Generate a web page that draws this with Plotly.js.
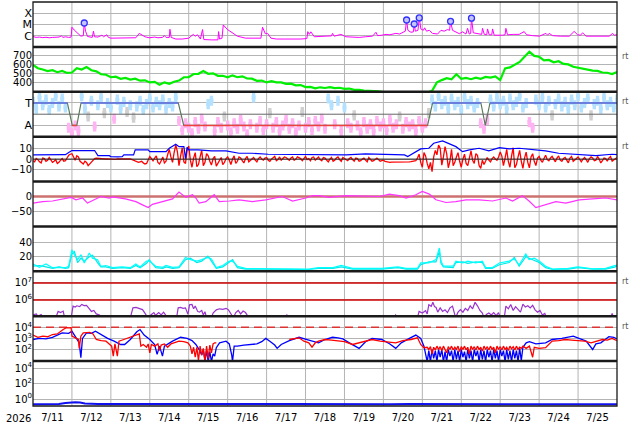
<!DOCTYPE html>
<html><head><meta charset="utf-8">
<script src="https://cdn.plot.ly/plotly-3.0.1.min.js"></script>
<style>
html,body{margin:0;padding:0;background:#fff;}
#chart{width:634px;height:424px;}
</style></head><body><div id="chart"></div>
<script>
// ---------- time base ----------
const T0 = Date.UTC(2026, 6, 11);
const X_RANGE = ['2026-07-11 00:00', '2026-07-26 00:00'];
const RANGE_HOURS = [0, 360];
const DAY_LINES = [24,48,72,96,120,144,168,192,216,240,264,288,312,336];

// ---------- panel 1: X-ray flux [hour, W/m2] ----------
const xray = [[0,8.3e-7],[2,7e-7],[4,7.5e-7],[6,6.7e-7],[8,7.2e-7],[10,6.5e-7],[12,7e-7],[14,6.8e-7],[16,7.5e-7],[17.5,9.5e-7],[18.5,7e-7],[20,8e-7],[22,7e-7],[23.5,7.5e-7],[24,5.6e-6],[25.4,3.2e-6],[27.4,1.6e-6],[29.5,9e-7],[31,1e-6],[31.6,1.35e-5],[32.4,2.5e-6],[33.6,8.5e-7],[36.5,7e-7],[37.3,2.5e-6],[37.9,8e-7],[40,7.5e-7],[42.5,1.1e-6],[43.5,8e-7],[45.5,1.2e-6],[46.5,7e-7],[48,6e-7],[52,6e-7],[56,5.8e-7],[60,6.2e-7],[63.4,6.5e-7],[65.5,1.6e-6],[67.5,1.1e-6],[69,8e-7],[71.6,6.5e-7],[75,7.5e-7],[77,6.5e-7],[79.8,7e-7],[81,1e-6],[82,7e-7],[84,7e-7],[84.4,3.7e-6],[85.2,7e-7],[88,5e-7],[92,5e-7],[96,6e-7],[98.8,1.3e-6],[100,9e-7],[101.4,1.2e-6],[103.2,5e-7],[104.5,3.5e-6],[105.3,4.5e-7],[110,4.2e-7],[114,4.2e-7],[114.4,2.3e-6],[115,5e-7],[116.5,6e-7],[117.3,9e-6],[119.9,3.5e-6],[123,1.6e-6],[126,9e-7],[131,6e-7],[136,5.8e-7],[140.5,6e-7],[141.5,5.6e-6],[143.2,1.5e-6],[144.6,1.6e-6],[146.7,6e-7],[150,5e-7],[155,4.8e-7],[160,4.8e-7],[165,5e-7],[168.8,5.5e-7],[169.4,2.3e-6],[170.3,1.3e-6],[171.3,2.2e-6],[173.4,8e-7],[176.4,9e-7],[180,9e-7],[184,9.5e-7],[184.6,1.6e-6],[185.7,9e-7],[189.8,1.3e-6],[192.9,8e-7],[197,7.5e-7],[201.1,7e-7],[205,8e-7],[209.3,9e-7],[211.4,2e-6],[212.4,1e-6],[215,1.1e-6],[217.6,1.3e-6],[220,1.2e-6],[223.7,1.6e-6],[226,1.4e-6],[227.8,2e-6],[229.5,2.5e-6],[230.3,2.5e-5],[231.1,3e-6],[233,2e-6],[234.5,2.2e-6],[235,1.1e-5],[235.7,2.5e-6],[237.3,3e-6],[238.1,3.8e-5],[239.1,4e-6],[240.6,3e-6],[241.4,5e-6],[242.6,2.5e-6],[244.3,3e-6],[246.3,1.6e-6],[249.4,1.4e-6],[251.5,3e-6],[253.5,2.5e-6],[255.5,3.5e-6],[256.8,3e-6],[257.4,1.9e-5],[258.6,3e-6],[260.7,2e-6],[262.8,1.5e-6],[264.8,2.2e-6],[266.9,1.4e-6],[267.9,4.5e-6],[268.9,1.4e-6],[269.8,1.6e-6],[270.3,3.6e-5],[271.4,1.8e-6],[275.1,1.3e-6],[276.6,1.3e-6],[277.1,4.5e-6],[278.2,1.3e-6],[279.7,1.2e-6],[280.2,4e-6],[281.2,1.2e-6],[282.8,1.2e-6],[283.3,4e-6],[284.3,1.1e-6],[289.4,1.1e-6],[291,1.2e-6],[291.5,4.5e-6],[292.5,1.2e-6],[296,1.3e-6],[299.7,1.3e-6],[302.8,2.3e-6],[304.3,1.2e-6],[308,1e-6],[312.1,9e-7],[316.2,1.6e-6],[317.2,1.1e-6],[318.2,1.6e-6],[320.3,1e-6],[325,9e-7],[330.6,9e-7],[333.6,2.4e-6],[335.7,1.2e-6],[337.5,1.1e-6],[338.8,1.8e-6],[340.9,9e-7],[346,9.5e-7],[350,9e-7],[355.2,9e-7],[357.3,1.6e-6],[358.3,1.1e-6],[360,1.2e-6]];
const flares = [[31.6,1.35e-5],[230.3,2.5e-5],[235,1.1e-5],[238.1,3.8e-5],[257.4,1.9e-5],[270.3,3.6e-5]];

// ---------- panel 2: solar wind speed, every 3 h ----------
const speed3h = [600,562,548,530,540,518,532,510,515,562,548,575,540,528,495,490,462,468,444,455,436,446,424,428,404,410,378,405,388,412,425,462,462,498,500,530,500,505,478,478,462,483,462,472,448,446,422,425,404,418,404,405,388,390,372,375,352,354,338,350,342,352,340,345,332,336,322,322,312,312,308,304,296,290,290,290,290,290,290,290,290,290,311,405,430,452,440,495,445,455,440,458,445,465,458,472,430,560,572,605,632,690,745,700,690,650,655,628,640,610,605,578,568,550,548,535,532,515,512,498,520];

// ---------- panel 3: IMF sector (T=+1, A=-1), every 2 h ----------
const sector2h = [1.1,0.5,1.5,0.8,1.3,0.4,1.0,1.6,0.7,1.4, 0.6,-1.2,-1.7,-1.0,-1.5,1.6,0.5,-0.2,1.2,-1.1, 0.8,1.5,0.1,1.0,0.6,-0.4,1.3,0.5,1.1,0.2, 0.8,-0.3,0.7,1.2,0.4,0.9,1.4,0.6,1.1,0.8, 1.3,0.5,1.0,0.7,1.5,-0.6,-1.4,-0.8,-1.2,-1.7, -0.7,-1.3,-0.4,-1.1,0.9,1.2,-1.5,-0.7,-1.2,-0.2, -1.0,-1.6,-0.8,-1.3,-0.5,-1.1,-1.8,-0.9,1.5,-1.2, -0.6,-1.4,-0.9,0.1,-1.2,-0.7,-1.5,-1.0,-0.5,-1.3, -0.8,-1.6,-1.0,0.2,-1.2,-0.7,-1.4,-0.6,-1.1,-0.4, -1.3,1.4,0.8,-0.9,1.2,-1.5,0.6,-0.8,-1.2,-0.1, -1.0,-1.6,-0.7,-1.3,-0.9,-1.5,-0.6,-1.1,-0.8,-1.4, -0.5,-1.2,-0.9,-0.2,-1.3,-0.7,-1.1,-0.9,-1.5,-0.6, -1.2,-0.8,0.1,1.3,0.7,1.6,0.9,1.2,0.5,1.4, 0.8,1.1,0.4,1.5,0.9,1.2,0.6,1.0,-0.8,-1.3, -0.5,1.3,0.7,1.5,0.9,1.2,0.5,1.4,0.8,1.1, 1.6,0.6,1.0,-0.7,-1.2,1.3,0.8,1.5,0.6,1.2, -0.1,0.9,1.4,0.7,1.1,0.5,1.3,0.8,1.6,0.6, 1.0,1.4,-0.1,0.9,1.2,0.5,1.5,0.8,1.1,0.6, 1.3];
const sectorLine = [[0,1],[21.2,1],[24.2,-1],[27,-1],[29.6,1],[89.6,1],[92.9,-1],[243.2,-1],[246.3,1],[276.1,1],[278.8,-1],[281.7,1],[360,1]];

// ---------- panel 4: IMF Bt [hour,nT]; Bz at even and odd hours ----------
const bt = [[0,3.9],[20,4.1],[22,6],[24,7.9],[38,7.9],[40,3.2],[47,3.2],[48,2.3],[52,2.0],[54,2.6],[55,2.3],[56,3.9],[62,3.9],[63,8.5],[71,8.5],[72,6.9],[82,6.9],[84,10],[86,12.2],[88,13.7],[90,11.5],[93,11.5],[94,0.5],[95,11],[96,8.5],[102,8.5],[110,7.6],[119,7.6],[127,5.4],[135,5.4],[145,4.5],[156,4.5],[176,3.9],[193,4.0],[205,4.8],[217,4.6],[229,3.9],[231,2.3],[233,3.9],[236,6.9],[239,9.4],[244,10],[247,14.6],[252.5,16.8],[255.5,14.6],[260.7,11.5],[264.8,6.9],[269,8.5],[275,10],[281,7.6],[287.5,10.6],[293.5,9.4],[299.7,10],[308,8.5],[316,7.6],[324,5.4],[337,4.5],[347,3.2],[357,4.5],[360,4.2]];
const bzEven = [-1.5,0.5,-2.5,1.0,-2.0,1.5,-3.0,-0.5,-3.0,0.5, -1.5,3.5,5.0,-1.0,2.0,-3.5,-2.0,-6.0,-3.0,0.5, 1.0,0.5,0.0,0.3,0.0,-0.3,0.2,0.0,0.3,0.0, 0.2,-1.0,-2.0,-2.5,-3.5,-4.0,2.5,-1.5,3.0,-4.5, 2.0,-2.0,9.0,-3.0,13.0,-6.0,10.5,-4.0,12.0,-7.5, 6.0,-5.0,8.0,-3.0,3.0,-5.5,2.5,-4.0,1.5,-3.0, 2.0,-5.0,3.0,-2.0,1.0,-3.5,2.5,-1.0,1.5,-2.5, 2.0,-1.0,1.5,-2.0,1.0,-1.5,2.0,0.5,1.5,-1.0, 2.0,0.0,1.5,-1.5,2.5,0.5,1.5,-1.0,2.0,-1.5, 1.0,-2.5,1.5,-1.0,2.0,-2.0,0.5,-1.5,1.5,-2.0, 0.5,-1.5,1.0,-2.5,0.0,-1.5,1.0,-2.0,-1.0,-2.5, -3.0,-2.8,-3.0,-3.2,-2.5,-3.0,-2.5,-2.0,-1.5,4.5, -7.5,3.0,-9.0,-11.5,8.0,13.0,-5.5,11.5,-8.0,9.0, -3.0,6.0,-7.5,4.5,-6.0,7.5,-4.0,3.5,-8.5,-5.0, 1.5,-2.5,2.0,-1.0,6.5,-6.0,9.0,-7.5,10.5,-5.0, 8.0,-8.5,6.5,-8.0,5.0,-6.0,2.5,-3.0,3.5,-1.5, 2.5,-2.5,3.0,-2.0,1.5,-3.5,2.5,-1.0,2.0,-2.5, 1.5,-3.0,2.0,-1.5,2.5,-3.5,1.0,-2.0,2.5,-1.0, 1.5];
const bzOdd = [-2.5,-0.5,-3.5,0.5,-1.0,-1.5,-2.0,-4.0,-1.0,-2.0, 1.0,4.5,2.0,3.0,-2.0,-4.5,-3.0,-4.5,-1.0,0.8, 0.6,0.2,0.1,0.2,-0.1,-0.2,0.1,0.2,0.1,0.1, -0.5,-1.5,-3.0,-2.0,-4.5,-1.0,0.5,1.0,-3.0,-1.5, -3.5,4.0,2.0,6.0,7.0,3.0,-2.5,8.0,-1.0,1.0, -7.0,2.0,-6.0,5.0,-2.0,0.5,-6.5,-1.0,-5.0,0.5, -1.0,0.0,-4.0,2.0,-1.5,0.5,-2.5,0.5,-1.0,0.5, 0.0,1.0,-1.0,0.0,2.5,-0.5,-1.0,2.0,0.0,1.0, -1.0,2.0,0.5,1.0,-0.5,-1.5,2.0,0.5,-0.5,1.5, -1.0,0.0,-2.0,1.0,-0.5,1.5,-1.0,0.5,-0.5,1.0, -2.0,0.0,-1.0,1.5,-2.0,0.0,-0.5,-1.5,-2.0,-3.0, -2.8,-3.2,-2.9,-3.0,-2.8,-2.6,-2.3,-1.8,1.0,-3.0, 6.0,-4.0,-3.0,2.0,4.0,10.0,2.0,5.0,-2.0,-6.0, 2.0,-2.0,0.0,-4.0,1.0,-1.0,5.0,-6.0,-1.0,-2.0, -1.0,0.5,0.0,2.0,3.0,1.0,-2.0,3.0,-8.0,2.0, -2.0,1.0,-3.0,2.0,-2.0,1.0,-1.0,0.5,-0.5,1.0, 0.0,1.0,-1.0,0.5,-1.0,1.0,-2.0,0.5,-1.0,0.0, -0.5,0.5,1.0,-1.0,0.0,-1.5,0.5,1.0,-2.0,0.5];

// ---------- panel 5: Dst [hour,nT] ----------
const dst = [[0,-22],[6,-17],[12,-15],[18,-8],[23.5,-3],[26.5,-11],[30.6,-5],[33.6,-22],[38.8,-8],[41.8,0],[47,-5],[49,-1],[57,-8],[63.4,-17],[67.5,-28],[71,-37],[73.6,-26],[79.8,-17],[86,-8],[90,15],[94.2,-3],[98.3,6],[100.4,-5],[102.4,-22],[106.5,-17],[111.7,6],[114.8,-17],[121,-15],[127,-11],[135.3,-17],[143.5,-11],[153.7,0],[160,-15],[168.2,-5],[172.3,3],[176.4,3],[182.6,-3],[192.9,3],[205,2],[213.5,0],[219.6,8],[225.8,3],[230,-5],[236,6],[240,17],[244.3,8],[248.4,-11],[254.6,-20],[260.7,-17],[266.9,-11],[275.1,-11],[283.3,-15],[291.5,-5],[295.6,-15],[301.7,3],[305.8,-15],[310,-37],[316.1,-28],[322.3,-17],[328.5,-22],[336.7,-11],[344.9,-8],[353.1,-5],[360,-11]];
const dstZero = [0, 0];

// ---------- panel 6: density, two sources ----------
const densHours = [0,4,8,12,16,20,22,24,25.5,27.5,29.6,31.6,34.7,36.7,39.8,41.8,44.9,49,55,60,63.4,66,70,71.6,75.7,80,82,86,90,94,97,101,104,107.8,110,113,117,121,123,126,131,140,150,160,170,176,185,190,193,197,205,215,225,230,237,239,244,248.4,250.5,251.5,253,259,260.7,265,268,273,277,279,283,287.5,293.5,296.7,299.7,303.8,305.8,309,312,316,320.3,324,330,336,345,353,359,360];
const densA = [10,5.5,10,5,5.5,5,7,29.6,22.8,16,22.8,11.5,25,18,16,7,8,5,6,5,10,6,14,14,7,5.5,8,5.5,6,19,16,14,16,19,17,5,8,14,14,7,4,4,3,4,3,5,5,8,6,4,4,4,6,4,4,11.5,11.5,16,32,14,7,7,14,11.5,14,11.5,14,5,5,11.5,14,17,9,23.8,16,18,14,7,3,3.5,4,6,3.5,4,8,7];
const densB = [7,8,6,4,6,4,5,24,27,12,18,14,20,22,12,6,6,4,5,4,8,5,11,16,5,4,6,4,5,16,18,12,14,21,14,4,6,12,16,5,3,3,2.5,3,2.5,4,4,6,5,3,3,3,5,3,3,9,13,13,27,11,6,5,12,13,11,13,12,4,4,9,12,19,7,20,18,15,12,5,2.5,3,3,5,3,3,6,9];

// ---------- panel 7: proton flux [hour, value] and thresholds ----------
const proton = [[0,1.3e5],[2,1.5e5],[3,1.1e5],[5,1.4e5],[6.5,9e4],[14,9e4],[15.5,2.1e5],[17,1.8e5],[18.6,2.2e5],[19.5,9e4],[23.5,9e4],[24.7,4.3e5],[26,3.8e5],[27,4.5e5],[28.8,4.0e5],[30,5.4e5],[31.5,4.6e5],[33,4.8e5],[34.5,3.2e5],[36,2.1e5],[37.5,2.4e5],[39,1.5e5],[41,1.3e5],[42,9e4],[60,9e4],[61.6,3.4e5],[63.5,3.6e5],[65.7,3.2e5],[67.5,2.7e5],[69.5,1.4e5],[70.5,9e4],[73,1.4e5],[74.5,1.8e5],[75.5,1.2e5],[77.5,1.8e5],[79,1.3e5],[80.5,1.9e5],[82,1.2e5],[83,9e4],[88.5,9e4],[89.5,3.4e5],[91,3.6e5],[92.5,3.2e5],[94,3.4e5],[95.5,1.4e5],[96.5,5.2e5],[98,5.4e5],[99,3.0e5],[100,4.4e5],[101.5,2.1e5],[102.5,1.9e5],[104,2.4e5],[105,1.3e5],[106,2.0e5],[107,9e4],[110,9e4],[111,1.7e5],[113,2.6e5],[115,3.0e5],[117,2.8e5],[119,3.2e5],[120.5,2.6e5],[122,1.5e5],[123.5,9e4],[125,1.8e5],[126.5,2.4e5],[128,1.5e5],[129.5,2.2e5],[131,1.8e5],[133,9e4],[155.5,9e4],[156.5,1.3e5],[157.5,9e4],[222.5,9e4],[223.5,1.3e5],[224.5,9e4],[237,9e4],[238,2.1e5],[240,1.7e5],[242,2.3e5],[243,1.5e5],[244,5.2e5],[245.5,4.2e5],[246.5,7.2e5],[247.5,4.0e5],[248.5,3.6e5],[249.5,1.9e5],[251,3.4e5],[252.5,2.1e5],[254,2.6e5],[255.5,1.8e5],[257,3.4e5],[258.6,4.3e5],[259.5,1.5e5],[260.5,9e4],[262,1.9e5],[263.5,2.7e5],[265,1.9e5],[266.5,3.2e5],[268,2.4e5],[269.5,4.5e5],[271,3.0e5],[272.5,7.2e5],[274,4.5e5],[275.5,2.4e5],[277,1.7e5],[278,9e4],[279.5,1.4e5],[281,1.7e5],[282.5,1.3e5],[284,1.8e5],[285.5,1.2e5],[287,1.8e5],[288,9e4],[290.5,9e4],[291.5,4.3e5],[293,3.0e5],[294.5,5.4e5],[296,2.4e5],[297.5,4.0e5],[299,2.6e5],[300.5,1.9e5],[302,5.6e5],[303.5,3.8e5],[305,4.5e5],[306.5,3.4e5],[308,4.8e5],[309.5,2.6e5],[311,1.9e5],[312.5,2.4e5],[314,1.3e5],[315.5,1.6e5],[316.5,9e4],[356,9e4],[357,1.6e5],[358,9e4],[360,9e4]];
const protonThresholds = [1e6, 1e7];

// ---------- panel 8: electron flux, two satellites [hour, log10 value] ----------
const electronBlueLog = [[0,2.9],[4,3.0],[8,2.95],[12,3.1],[18,3.5],[22,3.45],[24,3.65],[25.5,3.3],[27,2.9],[28.5,2.6],[29.5,1.26],[30.5,3.0],[33,3.5],[36,3.45],[38.5,3.65],[42,3.35],[46,3.0],[50,2.75],[54,2.45],[56.5,2.45],[60,2.9],[64,3.6],[66,3.8],[68.5,3.3],[72,2.9],[75,2.45],[76.5,1.56],[78,2.3],[79.8,1.4],[81,2.3],[84,2.6],[86,2.75],[91,3.1],[95,3.0],[98,2.8],[100.4,2.45],[102.5,1.97],[104,1.5],[105,2.0],[106,1.0],[107,1.9],[108,0.9],[109,1.8],[110,0.9],[111,1.6],[112,1.4],[113,2.16],[115,2.6],[119,2.75],[121,2.5],[122.5,1.5],[123,0.9],[124,2.3],[126,2.3],[130,2.4],[134,2.45],[138,2.5],[141,2.7],[143.5,3.0],[146,2.75],[149,2.4],[150.5,2.1],[153,2.45],[158,2.8],[164,3.1],[170,2.85],[176,2.6],[180,2.9],[184.6,3.1],[188,3.05],[191,2.95],[195,2.6],[199,2.3],[201,2.1],[205,2.7],[209,3.0],[215,2.9],[220,2.5],[223.6,2.1],[227,2.6],[232,3.0],[236,3.3],[239,3.0],[241,2.3],[243,0.9],[244,1.9],[245,0.9],[246,2.0],[247,1.2],[248,1.9],[249,0.9],[250,2.0],[251,1.3],[252,2.0],[253,0.9],[254,1.8],[255,0.9],[256,2.0],[257,1.4],[258,1.9],[259,0.9],[260,2.0],[261,1.1],[262,1.9],[263,0.9],[264,2.0],[265,1.3],[266,1.8],[267,0.9],[268,2.0],[269,1.2],[270,1.9],[271,0.9],[272,2.0],[273,1.4],[274,1.9],[275,0.9],[276,2.0],[277,1.1],[278,1.9],[279,0.9],[280,2.0],[281,1.3],[282,1.9],[283,0.9],[284,2.0],[285,1.2],[286,1.9],[287,0.9],[288,2.0],[289,1.4],[290,1.9],[291,0.9],[292,2.0],[293,1.1],[294,1.9],[295,0.9],[296,2.0],[297,1.2],[298,1.9],[299,0.9],[300,2.1],[301,1.0],[302,2.2],[304,2.6],[306,2.7],[310,2.5],[316,2.6],[320,2.9],[326,3.0],[333,3.2],[337,3.0],[341,2.75],[345,2.0],[347,2.5],[350,2.6],[355,3.15],[358,3.1],[360,2.95]];
const electronRedLog = [[0,3.3],[3,3.1],[6,3.2],[9,3.15],[12,3.35],[15,3.4],[18.6,3.8],[20.6,3.96],[22,3.95],[23.5,3.96],[24,3.2],[26,3.05],[28,2.9],[28.5,2.1],[29.5,3.2],[31,3.5],[35,3.55],[37,3.4],[39,2.9],[42,2.8],[45,2.75],[47,2.5],[48.5,2.3],[49.5,1.4],[50.5,2.5],[52,1.4],[53,2.75],[56,2.9],[60,3.1],[64,3.35],[65.5,3.4],[66.5,2.3],[68,2.45],[70,2.2],[71,2.5],[72,1.7],[73,2.45],[75,2.3],[77,2.5],[78,1.9],[79,2.4],[81,2.5],[83,2.2],[85,2.5],[87,2.6],[90,2.75],[93,2.7],[95.5,2.6],[97,2.3],[98,1.6],[99,2.2],[100,1.3],[101,2.2],[102,1.0],[103,2.3],[104,1.5],[105,2.1],[106,0.9],[107,2.3],[108,1.2],[109,2.4],[110,1.7],[111,2.5],[112,2.6],[113,2.6],[113.5,null],[158,2.9],[161,3.0],[164,3.05],[167,2.75],[170,2.6],[172,2.2],[174,2.6],[176,2.75],[180,2.9],[184,2.85],[188,2.75],[192,2.7],[197,2.45],[201,2.6],[205,2.8],[209,2.9],[214,2.75],[219,2.7],[223.6,2.6],[228,2.8],[233,2.9],[237,3.05],[239,2.45],[241,2.16],[243,2.2],[244,2.0],[245,2.25],[246,1.6],[247,2.2],[248,1.95],[249,2.3],[250,2.0],[251,2.25],[252,1.9],[253,2.3],[254,2.0],[255,1.7],[256,2.25],[257,2.0],[258,2.3],[259,1.95],[260,2.2],[261,2.0],[262,2.3],[263,1.8],[264,2.25],[265,2.0],[266,2.3],[267,1.95],[268,2.2],[269,1.6],[270,2.3],[271,2.0],[272,2.25],[273,1.95],[274,2.3],[275,2.0],[276,2.2],[277,1.85],[278,2.3],[279,2.0],[280,2.25],[281,1.95],[282,2.3],[283,2.0],[284,2.2],[285,1.7],[286,2.3],[287,2.0],[288,2.25],[289,1.95],[290,2.3],[291,2.0],[292,2.2],[293,1.9],[294,2.3],[295,2.05],[296,2.25],[297,1.95],[298,2.3],[299,2.0],[300,2.2],[301,2.1],[302,2.3],[304,2.1],[306,2.3],[308,1.3],[309,2.2],[312,2.1],[316,2.16],[320,2.75],[324,2.8],[328,2.9],[332,2.85],[336,2.8],[340,2.75],[344,2.6],[348,2.75],[351,2.9],[354,2.85],[357,3.0],[360,2.8]];
const electronThreshold = [1e4, 1e4];

// ---------- panel 9: flux near background ----------
const p9 = [[0,0.21],[8,0.22],[16,0.23],[20,0.3],[23,0.37],[26,0.38],[29,0.35],[32,0.26],[40,0.22],[52,0.21],[64,0.22],[76,0.21],[88,0.22],[100,0.22],[112,0.21],[124,0.22],[136,0.21],[148,0.22],[160,0.22],[172,0.21],[184,0.22],[196,0.21],[208,0.22],[220,0.21],[232,0.22],[244,0.22],[256,0.21],[268,0.22],[280,0.21],[292,0.22],[304,0.21],[316,0.22],[328,0.22],[340,0.21],[352,0.22],[360,0.21]];

// ---------- tick labels and axis ranges ----------
const xrayTicks = {vals:[1e-6,1e-5,1e-4], text:['C','M','X']};
const speedTicks = [400,500,600,700];
const sectorTicks = {vals:[-1,1], text:['A','T']};
const bTicks = {vals:[-10,0,10], text:['\u221210','0','10']};
const dstTicks = {vals:[-50,0], text:['\u221250','0']};
const densTicks = [20,40];
const protonTicks = {vals:[1e6,1e7], text:['10<sup>6</sup>','10<sup>7</sup>']};
const electronTicks = {vals:[1e2,1e3,1e4], text:['10<sup>2</sup>','10<sup>3</sup>','10<sup>4</sup>']};
const p9Ticks = {vals:[1,1e2,1e4], text:['10<sup>0</sup>','10<sup>2</sup>','10<sup>4</sup>']};
const AXES = [
  {id:'y',  type:'log',    range:[-7,-3],       ticks:xrayTicks.vals,     text:xrayTicks.text, big:true},
  {id:'y2', type:'linear', range:[300,800],     ticks:speedTicks},
  {id:'y3', type:'linear', range:[-2,2],        ticks:sectorTicks.vals,   text:sectorTicks.text, big:true},
  {id:'y4', type:'linear', range:[-20.7,20.7],  ticks:bTicks.vals,        text:bTicks.text},
  {id:'y5', type:'linear', range:[-100,50],     ticks:dstTicks.vals,      text:dstTicks.text},
  {id:'y6', type:'linear', range:[0,61.5],      ticks:densTicks},
  {id:'y7', type:'log',    range:[5.04,7.68],   ticks:protonTicks.vals,   text:protonTicks.text},
  {id:'y8', type:'log',    range:[0.95,5.0],    ticks:electronTicks.vals, text:electronTicks.text},
  {id:'y9', type:'log',    range:[-0.9,4.9],    ticks:p9Ticks.vals,       text:p9Ticks.text}
];

// ---------- build ----------
const toT = h => T0 + h * 3600000;
const px = pairs => pairs.map(p => toT(p[0]));
const py = pairs => pairs.map(p => p[1]);
const pyLog = pairs => pairs.map(p => p[1] === null ? null : Math.pow(10, p[1]));
const grid = (arr, step) => arr.map((_, i) => toT(i * step));
const edge = RANGE_HOURS.map(toT);
const GRID = '#b4b4b4';

function ln(x, y, yaxis, color, width, extra) {
  return Object.assign({type:'scatter', mode:'lines', x, y, xaxis:'x', yaxis,
    line:{color, width}, hoverinfo:'skip', connectgaps:false}, extra || {});
}

const traces = [];
// vertical day lines for every panel (drawn first, under the data)
AXES.forEach(a => {
  const lo = a.type === 'log' ? Math.pow(10, a.range[0]) : a.range[0];
  const hi = a.type === 'log' ? Math.pow(10, a.range[1]) : a.range[1];
  const gx = [], gy = [];
  DAY_LINES.forEach(h => { gx.push(toT(h), toT(h), null); gy.push(lo, hi, null); });
  traces.push(ln(gx, gy, a.id, GRID, 1));
});
// panel 1
traces.push(ln(px(xray), py(xray), 'y', '#ff00ff', 1));
traces.push({type:'scatter', mode:'markers', x:px(flares), y:py(flares), xaxis:'x', yaxis:'y',
  marker:{symbol:'circle', size:6, color:'#c4c4ff', line:{color:'#3030ff', width:1.3}}, hoverinfo:'skip'});
// panel 2
traces.push(ln(grid(speed3h, 3), speed3h, 'y2', '#00ee00', 2.2));
// panel 3: scattered sector points, split by sign, drawn as short vertical strokes
const secT = sector2h.map((v, i) => [i * 2, v]);
const groups = [
  {sel: p => p[1] > 0.3, color:'#b3e1ff'},
  {sel: p => p[1] < -0.3, color:'#ffb3f2'},
  {sel: p => p[1] >= -0.3 && p[1] <= 0.3, color:'#d0d0d0'}
];
groups.forEach(g => {
  const pts = secT.filter(g.sel);
  traces.push({type:'scatter', mode:'markers', x:px(pts), y:py(pts), xaxis:'x', yaxis:'y3',
    marker:{symbol:'square', size:4, color:g.color},
    error_y:{type:'constant', value:0.45, color:g.color, thickness:3.4, width:0},
    hoverinfo:'skip'});
});
traces.push(ln(px(sectorLine), py(sectorLine), 'y3', '#5b7a5b', 1.2));
const tSegX = [], tSegY = [], aSegX = [], aSegY = [];
for (let k = 0; k < sectorLine.length - 1; k++) {
  const a = sectorLine[k], b = sectorLine[k+1];
  if (a[1] === b[1]) {
    const X = a[1] > 0 ? tSegX : aSegX, Y = a[1] > 0 ? tSegY : aSegY;
    X.push(toT(a[0]), toT(b[0]), null); Y.push(a[1], b[1], null);
  }
}
traces.push(ln(tSegX, tSegY, 'y3', '#6070ee', 1.4));
traces.push(ln(aSegX, aSegY, 'y3', '#ee4040', 1.4));
traces.push(ln(edge, [0, 0], 'y3', '#666666', 1));
// panel 4
const bz = [];
bzEven.forEach((v, i) => { bz.push([2 * i, v]); if (i < bzOdd.length) bz.push([2 * i + 1, bzOdd[i]]); });
traces.push(ln(px(bz), py(bz), 'y4', '#ff0000', 1.3));
traces.push(ln(px(bt), py(bt), 'y4', '#0000ff', 1.2));
traces.push(ln(edge, [0, 0], 'y4', '#222222', 1));
// panel 5
traces.push(ln(edge, dstZero, 'y5', '#cc7070', 2.5));
traces.push(ln(px(dst), py(dst), 'y5', '#ff33ff', 1.2));
// panel 6
const dT = densHours.map(toT);
traces.push(ln(dT, densB, 'y6', '#00e8e8', 1.2));
traces.push(ln(dT, densA, 'y6', '#00ffff', 1.2));
// panel 7
protonThresholds.forEach(v => traces.push(ln(edge, [v, v], 'y7', '#cc0000', 1.5)));
traces.push(ln(px(proton), py(proton), 'y7', '#9933cc', 1.2));
// panel 8
traces.push(ln(edge, electronThreshold, 'y8', '#dd3333', 1.5, {line:{color:'#dd3333', width:1.5, dash:'8px,5px'}}));
traces.push(ln(px(electronBlueLog), pyLog(electronBlueLog), 'y8', '#0000ff', 1.3));
traces.push(ln(px(electronRedLog), pyLog(electronRedLog), 'y8', '#ff0000', 1.3));
// panel 9
traces.push(ln(px(p9), py(p9), 'y9', '#1010ee', 2));

const FONT = {family:'DejaVu Sans', size:10, color:'#000'};
const layout = {
  width:634, height:424,
  margin:{l:33, r:17, t:2, b:18},
  paper_bgcolor:'#fff', plot_bgcolor:'rgba(0,0,0,0)',
  showlegend:false, hovermode:false,
  xaxis:{type:'date', range:X_RANGE, anchor:'y9', dtick:86400000, tick0:'2026-07-11',
    tickformat:'%-m/%-d', ticklabelmode:'period', showgrid:false,
    zeroline:false, ticks:'', showline:false, tickfont:FONT, fixedrange:true, ticklabelstandoff:4},
  shapes: [],
  annotations: []
};
AXES.forEach((a, i) => {
  const key = i === 0 ? 'yaxis' : 'yaxis' + (i + 1);
  const ax = {domain:[1 - (i+1)/9, 1 - i/9], anchor:'x', type:a.type, range:a.range,
    tickvals:a.ticks, showgrid:true, gridcolor:GRID, gridwidth:1, zeroline:false, ticks:'',
    showline:false, fixedrange:true, layer:'below traces',
    tickfont: a.big ? {family:'DejaVu Sans', size:11, color:'#000'} : FONT};
  if (a.text) ax.ticktext = a.text;
  layout[key] = ax;
});
for (let k = 1; k <= 8; k++) {
  layout.shapes.push({type:'line', xref:'paper', yref:'paper', x0:0, x1:1, y0:k/9, y1:k/9,
    line:{color:'#1a1a1a', width:2.5}, layer:'above'});
}
layout.shapes.push({type:'rect', xref:'paper', yref:'paper', x0:0, x1:1, y0:0, y1:1,
  line:{color:'#1a1a1a', width:1.3}, layer:'above'});
[0.8646, 0.7532, 0.6418, 0.3077, 0.1963].forEach(y => layout.annotations.push({
  xref:'paper', yref:'paper', x:1, y, xanchor:'left', yanchor:'middle', xshift:3,
  text:'rt', showarrow:false, font:{family:'DejaVu Sans', size:8, color:'#555'}}));
layout.annotations.push({xref:'paper', yref:'paper', x:-0.025, y:0, xanchor:'center', yanchor:'top',
  yshift:-5, text:'2026', showarrow:false, font:FONT});

Plotly.newPlot('chart', traces, layout, {staticPlot:true, displayModeBar:false});
</script></body></html>
